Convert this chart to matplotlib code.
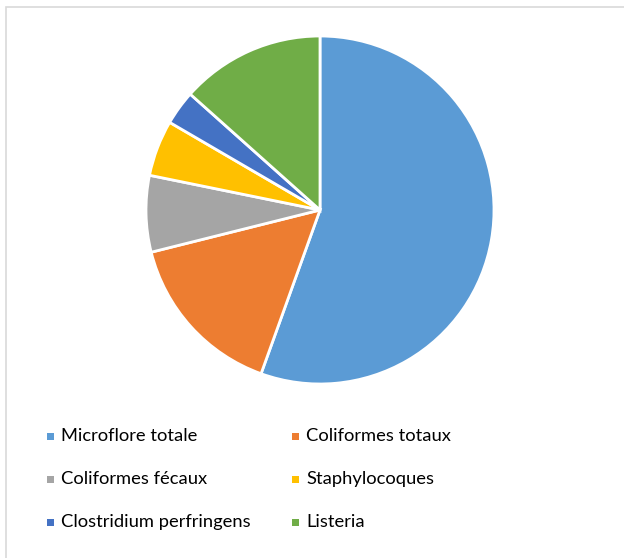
import matplotlib
matplotlib.use("Agg")
import matplotlib.pyplot as plt
from matplotlib.patches import Rectangle

labels = ["Microflore totale", "Coliformes totaux", "Coliformes fécaux",
          "Staphylocoques", "Clostridium perfringens", "Listeria"]
values = [55.5, 15.6, 7.1, 5.2, 3.2, 13.4]
colors = ["#5B9BD5", "#ED7D31", "#A5A5A5", "#FFC000", "#4472C4", "#70AD47"]

W, H = 624, 558
fig = plt.figure(figsize=(W / 100, H / 100), dpi=100)

# chart frame
fig.patches.append(Rectangle((6 / W, -0.1), 1.2, 1 - 7 / H + 0.1,
                             transform=fig.transFigure, fill=False,
                             edgecolor="#D9D9D9", linewidth=1.2))

cx, cy, r = 320, 210, 174
ax = fig.add_axes([(cx - r) / W, 1 - (cy + r) / H, 2 * r / W, 2 * r / H])
ax.pie(values, colors=colors, startangle=90, counterclock=False, radius=1,
       wedgeprops=dict(edgecolor="white", linewidth=2.0))
ax.set_xlim(-1.0, 1.0)
ax.set_ylim(-1.0, 1.0)
ax.set_aspect("auto")
ax.axis("off")

# legend (two columns)
col_x = [47, 292]
row_y = [436, 479, 522]
for i, (lab, c) in enumerate(zip(labels, colors)):
    x = col_x[i % 2]
    y = row_y[i // 2]
    fig.patches.append(Rectangle((x / W, 1 - (y + 3.5) / H), 7 / W, 7 / H,
                                 transform=fig.transFigure, facecolor=c,
                                 edgecolor="none"))
    fig.text((x + 14) / W, 1 - y / H, lab, fontsize=13.2, family="Lato",
             color="#000000", va="center", ha="left")

fig.savefig("out.png", dpi=100)
